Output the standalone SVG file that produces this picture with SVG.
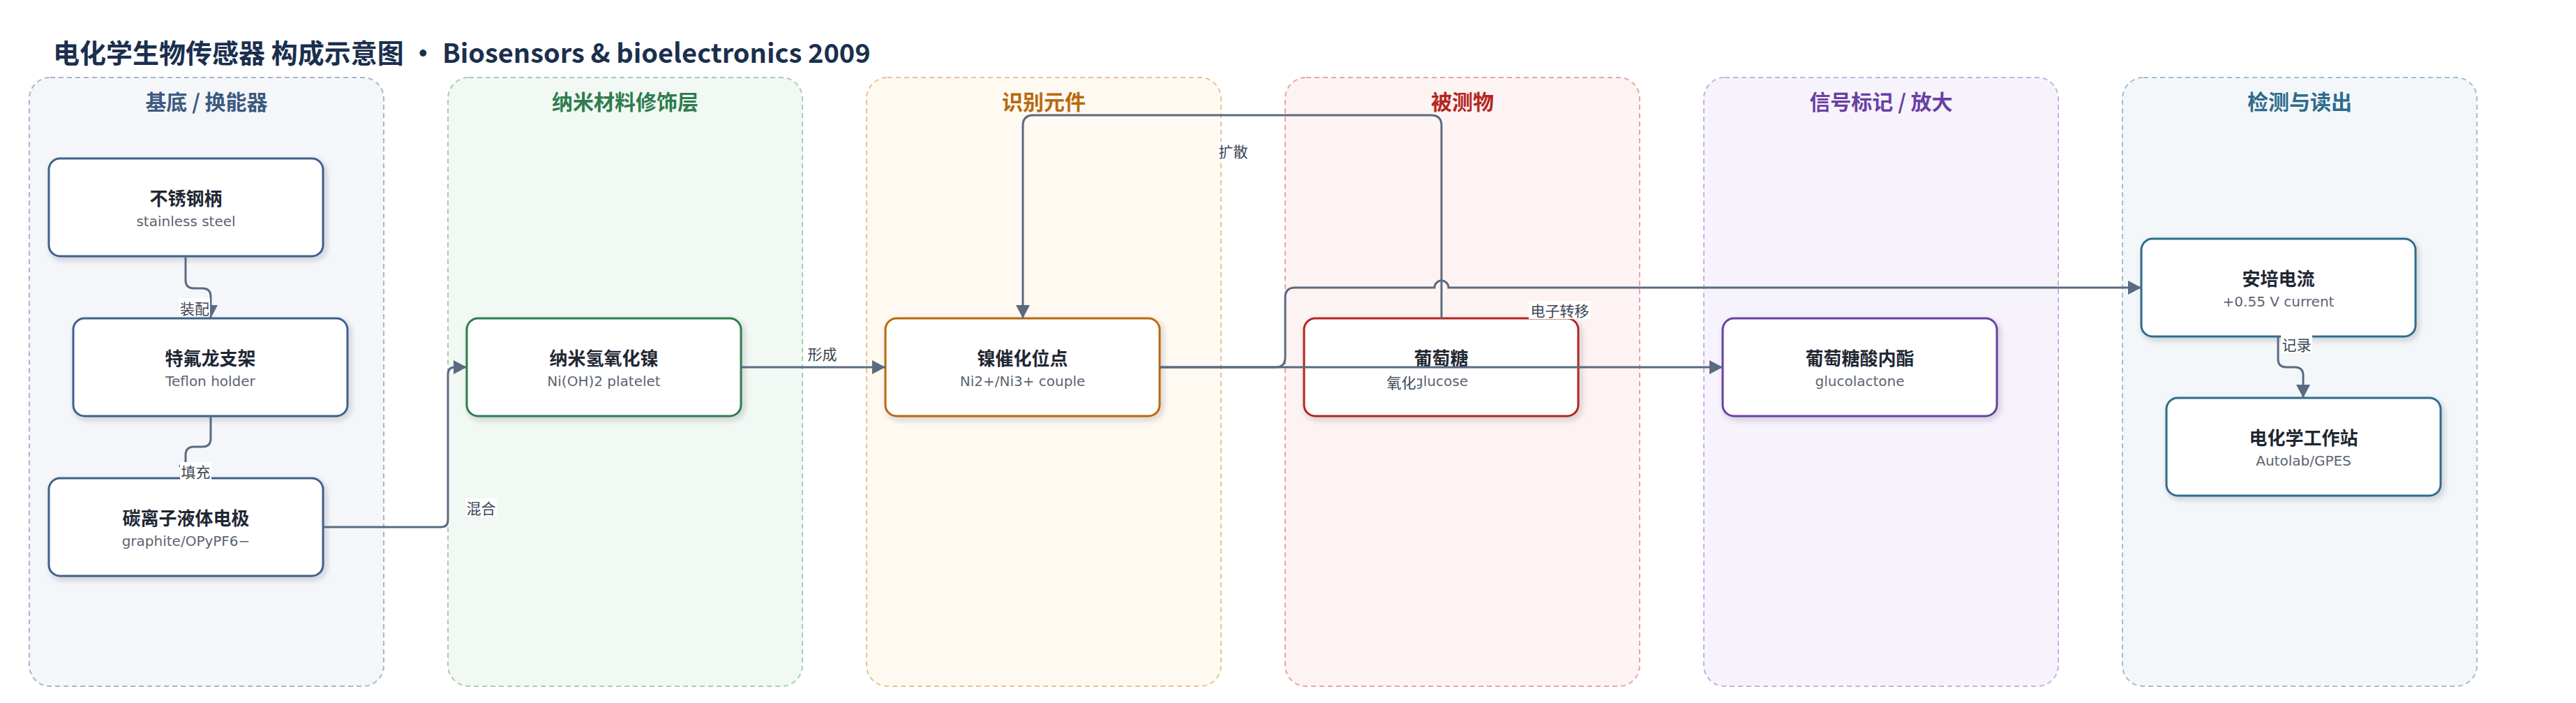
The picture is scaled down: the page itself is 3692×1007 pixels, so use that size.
<svg xmlns="http://www.w3.org/2000/svg" width="3692" height="1007" viewBox="0 0 3692 1007">
<defs>
<style>
.title{font-family:"Noto Sans CJK SC","Noto Sans",sans-serif;font-weight:700;font-size:38px;fill:#1b2f4e}
.ctitle{font-family:"Noto Sans CJK SC","Noto Sans",sans-serif;font-weight:700;font-size:30px;text-anchor:middle}
.cbox{stroke-width:2;stroke-dasharray:7 5}
.node{fill:#ffffff;stroke-width:3;filter:url(#sh)}
.nt{font-family:"Noto Sans CJK SC","Noto Sans",sans-serif;font-weight:700;font-size:26px;fill:#1f2733;text-anchor:middle}
.ns{font-family:"DejaVu Sans","Noto Sans CJK SC",sans-serif;font-size:20px;fill:#5b6472;text-anchor:middle}
.edge{fill:none;stroke:#5a6b80;stroke-width:3;marker-end:url(#ah)}
.ebg{fill:#ffffff}
.el{font-family:"Noto Sans CJK SC","Noto Sans",sans-serif;font-size:21px;fill:#3c4654;text-anchor:middle}
</style>
<filter id="sh" x="-10%" y="-20%" width="125%" height="150%">
<feDropShadow dx="3" dy="4" stdDeviation="4" flood-color="#1e293b" flood-opacity="0.2"/>
</filter>
<marker id="ah" markerUnits="userSpaceOnUse" markerWidth="20" markerHeight="20" refX="19" refY="10" orient="auto">
<path d="M0,0 L19,10 L0,20 z" fill="#5a6b80"/>
</marker>
</defs>
<rect width="3692" height="1007" fill="#ffffff"/>
<text class="title" x="76" y="90">电化学生物传感器 构成示意图 · Biosensors &amp; bioelectronics 2009</text>

<g id="containers">
<g id="group-substrate">
<rect class="cbox" x="42" y="111" width="508" height="872" rx="30" fill="#f4f6fa" stroke="#a8b5c8"/>
<text class="ctitle" x="296" y="157" fill="#3d5a80">基底 / 换能器</text>
</g>
<g id="group-nano">
<rect class="cbox" x="642" y="111" width="508" height="872" rx="30" fill="#f2f8f3" stroke="#a3cfb0"/>
<text class="ctitle" x="896" y="157" fill="#2e7d4e">纳米材料修饰层</text>
</g>
<g id="group-recognition">
<rect class="cbox" x="1242" y="111" width="508" height="872" rx="30" fill="#fef9f1" stroke="#e8c391"/>
<text class="ctitle" x="1496" y="157" fill="#b8690e">识别元件</text>
</g>
<g id="group-analyte">
<rect class="cbox" x="1842" y="111" width="508" height="872" rx="30" fill="#fdf3f3" stroke="#e8a4a4"/>
<text class="ctitle" x="2096" y="157" fill="#b3261e">被测物</text>
</g>
<g id="group-signal">
<rect class="cbox" x="2442" y="111" width="508" height="872" rx="30" fill="#f7f3fc" stroke="#c7afe0"/>
<text class="ctitle" x="2696" y="157" fill="#6a3fa3">信号标记 / 放大</text>
</g>
<g id="group-readout">
<rect class="cbox" x="3042" y="111" width="508" height="872" rx="30" fill="#f3f7f9" stroke="#a0bfd0"/>
<text class="ctitle" x="3296" y="157" fill="#2f6c8c">检测与读出</text>
</g>
</g>

<g id="nodes">
<g id="n-steel">
<rect class="node" x="70" y="227" width="393" height="140" rx="16" stroke="#41618c"/>
<text class="nt" x="266.5" y="294">不锈钢柄</text>
<text class="ns" x="266.5" y="324">stainless steel</text>
</g>
<g id="n-teflon">
<rect class="node" x="105" y="456" width="393" height="140" rx="16" stroke="#41618c"/>
<text class="nt" x="301.5" y="523">特氟龙支架</text>
<text class="ns" x="301.5" y="553">Teflon holder</text>
</g>
<g id="n-electrode">
<rect class="node" x="70" y="685" width="393" height="140" rx="16" stroke="#41618c"/>
<text class="nt" x="266.5" y="752">碳离子液体电极</text>
<text class="ns" x="266.5" y="782">graphite/OPyPF6−</text>
</g>
<g id="n-nioh">
<rect class="node" x="669" y="456" width="393" height="140" rx="16" stroke="#2e7d4e"/>
<text class="nt" x="865.5" y="523">纳米氢氧化镍</text>
<text class="ns" x="865.5" y="553">Ni(OH)2 platelet</text>
</g>
<g id="n-site">
<rect class="node" x="1269" y="456" width="393" height="140" rx="16" stroke="#b8690e"/>
<text class="nt" x="1465.5" y="523">镍催化位点</text>
<text class="ns" x="1465.5" y="553">Ni2+/Ni3+ couple</text>
</g>
<g id="n-glucose">
<rect class="node" x="1869" y="456" width="393" height="140" rx="16" stroke="#b3261e"/>
<text class="nt" x="2065.5" y="523">葡萄糖</text>
<text class="ns" x="2065.5" y="553">glucose</text>
</g>
<g id="n-lactone">
<rect class="node" x="2469" y="456" width="393" height="140" rx="16" stroke="#6a3fa3"/>
<text class="nt" x="2665.5" y="523">葡萄糖酸内酯</text>
<text class="ns" x="2665.5" y="553">glucolactone</text>
</g>
<g id="n-current">
<rect class="node" x="3069" y="342" width="393" height="140" rx="16" stroke="#2f6c8c"/>
<text class="nt" x="3265.5" y="409">安培电流</text>
<text class="ns" x="3265.5" y="439">+0.55 V current</text>
</g>
<g id="n-station">
<rect class="node" x="3105" y="570" width="393" height="140" rx="16" stroke="#2f6c8c"/>
<text class="nt" x="3301.5" y="637">电化学工作站</text>
<text class="ns" x="3301.5" y="667">Autolab/GPES</text>
</g>
</g>

<g id="connectors">
<path class="edge" d="M266,367 V401 Q266,413 278,413 H290 Q302,413 302,425 V456"/>
<path class="edge" d="M302,596 V628 Q302,640 290,640 H278 Q266,640 266,652 V685"/>
<path class="edge" d="M463,755 H632 Q642,755 642,745 V536 Q642,526 652,526 H669"/>
<path class="edge" d="M1062,526 H1269"/>
<path class="edge" d="M2066,456 V180 Q2066,165 2051,165 H1481 Q1466,165 1466,180 V456"/>
<path class="edge" d="M1662,526 H2469"/>
<path class="edge" d="M1662,526 H1828 Q1842,526 1842,512 V426 Q1842,412 1856,412 H2056 A10,10 0 0 1 2076,412 H3069"/>
<path class="edge" d="M3265,482 V514 Q3265,526 3277,526 H3289 Q3301,526 3301,538 V570"/>
<g id="edge-labels">
<rect class="ebg" x="257" y="427" width="44" height="26"/>
<text class="el" x="279" y="450">装配</text>
<rect class="ebg" x="258" y="662" width="45" height="26"/>
<text class="el" x="280.5" y="684">填充</text>
<rect class="ebg" x="667" y="714" width="45" height="26"/>
<text class="el" x="689.5" y="736">混合</text>
<rect class="ebg" x="1156" y="493" width="45" height="26"/>
<text class="el" x="1178.5" y="515">形成</text>
<rect class="ebg" x="1745" y="203" width="45" height="26"/>
<text class="el" x="1767.5" y="225">扩散</text>
<rect class="ebg" x="2191" y="431" width="89" height="26"/>
<text class="el" x="2235.5" y="453">电子转移</text>
<rect class="ebg" x="1986" y="534" width="45" height="26"/>
<text class="el" x="2008.5" y="556">氧化</text>
<rect class="ebg" x="3269" y="480" width="45" height="26"/>
<text class="el" x="3291.5" y="502">记录</text>
</g>
</g>
</svg>
